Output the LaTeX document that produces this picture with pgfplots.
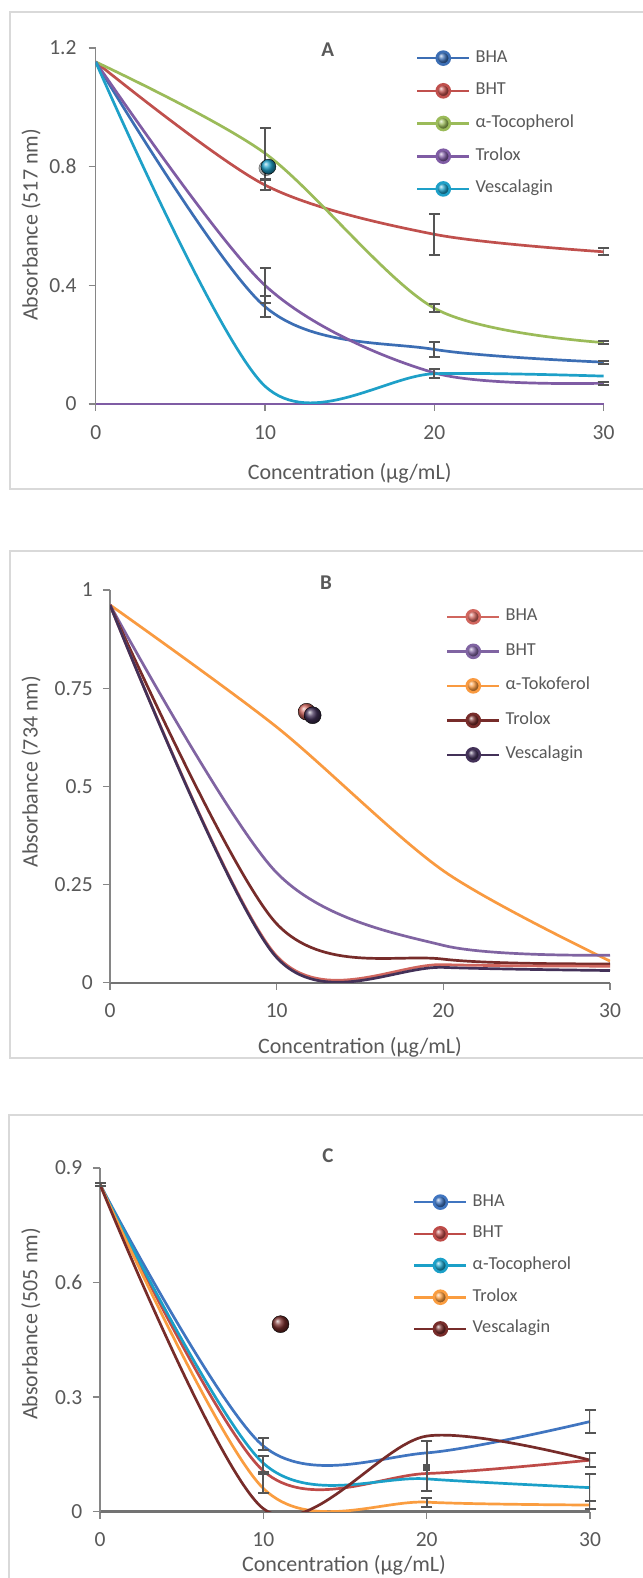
\documentclass[border=0pt]{standalone}
\usepackage{fontspec}
\setmainfont{Carlito}
\usepackage{pgfplots}
\pgfplotsset{compat=1.18}
\usetikzlibrary{plotmarks}
\definecolor{txt}{HTML}{595959}
\definecolor{axisgray}{HTML}{868686}
\definecolor{errgray}{HTML}{555555}
\definecolor{framec}{HTML}{D9D9D9}
\definecolor{aBHA}{HTML}{3C6EB4}
\definecolor{aBHT}{HTML}{C0504D}
\definecolor{aTOC}{HTML}{9BBB59}
\definecolor{aTRO}{HTML}{7F5CA4}
\definecolor{aVES}{HTML}{1EA0C8}
\definecolor{bBHA}{HTML}{D0665E}
\definecolor{bBHT}{HTML}{8064A2}
\definecolor{bTOK}{HTML}{F99A40}
\definecolor{bTRO}{HTML}{772C2A}
\definecolor{bVES}{HTML}{433158}
\definecolor{cBHA}{HTML}{4075C0}
\definecolor{cBHT}{HTML}{BE4B48}
\definecolor{cTOC}{HTML}{1BA0C8}
\definecolor{cTRO}{HTML}{FA9D40}
\definecolor{cVES}{HTML}{772C2A}

\pgfplotsset{
  curve/.style={smooth, tension=0.5, line width=2.7bp, no markers, forget plot},
  ebar/.style={forget plot, errgray, line width=2bp, mark=-, mark size=5.5bp,
    mark options={solid, line width=2bp}, unbounded coords=jump},
  ball/.style={only marks, mark=ball, mark size=#1, forget plot},
  limg/.style={#1, line width=2.6bp, mark=ball, mark size=6.5bp, mark options={ball color=#1}},
  chart/.style={
    scale only axis,
    anchor=south west,
    xmin=0, xmax=30, ymin=0,
    axis lines=left,
    axis line style={-, axisgray, line width=1.3bp},
    xtick={0,10,20,30},
    tick align=outside,
    major tick length=7bp,
    tick style={axisgray, line width=1.3bp},
    tick label style={font=\fontsize{21.5bp}{21.5bp}\selectfont, text=txt, inner sep=0pt},
    /pgf/number format/assume math mode=true,
    yticklabel style={anchor=east},
    xticklabel style={anchor=north, yshift=-14bp},
    label style={font=\fontsize{22bp}{23bp}\selectfont, text=txt},
    title style={font=\fontsize{21bp}{21bp}\selectfont\bfseries, text=txt, anchor=center},
    legend style={draw=none, fill=none, font=\fontsize{18.3bp}{18.3bp}\selectfont, text=txt,
      anchor=north west, inner sep=0pt, outer sep=0pt,
      nodes={inner sep=0pt, text height=12bp, text depth=4bp},
      column sep=5bp},
    legend cell align=left,
    legend image code/.code={\draw[mark repeat=2, mark phase=2, ##1] plot coordinates {(0bp,0bp) (26bp,0bp) (52bp,0bp)};},
  },
}

\begin{document}
\begin{tikzpicture}
\useasboundingbox (0,0) rectangle (643bp,1578bp);
\fill[white] (0,0) rectangle (643bp,1578bp);
\draw[framec, line width=1.5bp] (700bp,1566bp) -- (10bp,1566bp) -- (10bp,1089bp) -- (700bp,1089bp);
\draw[framec, line width=1.5bp] (700bp,1027bp) -- (10bp,1027bp) -- (10bp,520bp) -- (700bp,520bp);
\draw[framec, line width=1.5bp] (700bp,463bp) -- (9bp,463bp) -- (9bp,-20bp);

% ---------------- Panel A ----------------
\begin{axis}[chart,
  at={(95.7bp,1174bp)}, width=507.9bp, height=356bp,
  ymax=1.2, ytick={0,0.4,0.8,1.2},
  yticklabel style={xshift=-12bp},
  x axis line style={aTRO},
  title={A}, title style={at={(axis description cs:0.457,0.978)}},
  xlabel={Concentration (µg/mL)}, xlabel style={at={(axis description cs:0.5,-0.194)}, anchor=center},
  ylabel={Absorbance (517 nm)}, ylabel style={at={(axis description cs:-0.127,0.503)}, anchor=center},
  legend style={at={(axis description cs:0.6306,0.994)}, row sep=16.7bp},
]
\addplot[curve, aBHT] coordinates {(0,1.153) (10,0.738) (20,0.572) (30,0.513)};
\addplot[curve, aTOC] coordinates {(0,1.153) (10,0.845) (20,0.323) (30,0.207)};
\addplot[curve, aBHA] coordinates {(0,1.153) (10,0.328) (20,0.184) (30,0.141)};
\addplot[curve, aTRO] coordinates {(0,1.153) (10,0.40) (20,0.105) (30,0.07)};
\addplot[curve, aVES] coordinates {(0,1.153) (10,0.06) (20,0.102) (30,0.094)};
\addplot[ebar] coordinates {
 (10,0.76) (10,0.93) (10,nan)
 (10,0.72) (10,0.756) (10,nan)
 (10,0.342) (10,0.458) (10,nan)
 (10,0.292) (10,0.364) (10,nan)
 (20,0.502) (20,0.642) (20,nan)
 (20,0.309) (20,0.337) (20,nan)
 (20,0.16) (20,0.208) (20,nan)
 (20,0.086) (20,0.118) (20,nan)
 (30,0.501) (30,0.525) (30,nan)
 (30,0.201) (30,0.213) (30,nan)
 (30,0.136) (30,0.146) (30,nan)
 (30,0.065) (30,0.075)};
\addplot[ball=7.5bp, mark options={ball color=black!60, opacity=0.5}] coordinates {(10.08,0.795)};
\addplot[ball=7.5bp, mark options={ball color=aVES}] coordinates {(10.2,0.80)};
\addlegendimage{limg=aBHA}\addlegendentry{BHA}
\addlegendimage{limg=aBHT}\addlegendentry{BHT}
\addlegendimage{limg=aTOC}\addlegendentry{α-Tocopherol}
\addlegendimage{limg=aTRO}\addlegendentry{Trolox}
\addlegendimage{limg=aVES}\addlegendentry{Vescalagin}
\end{axis}

% ---------------- Panel B ----------------
\begin{axis}[chart,
  at={(110bp,595.3bp)}, width=500bp, height=392.7bp,
  ymax=1, ytick={0,0.25,0.5,0.75,1},
  yticklabel style={xshift=-10bp},
  x axis line style={line width=2bp, black!55},
  title={B}, title style={at={(axis description cs:0.432,1.004)}},
  xlabel={Concentration (µg/mL)}, xlabel style={at={(axis description cs:0.5,-0.165)}, anchor=center},
  ylabel={Absorbance (734 nm)}, ylabel style={at={(axis description cs:-0.158,0.537)}, anchor=center},
  legend style={at={(axis description cs:0.672,0.952)}, row sep=18.5bp},
]
\addplot[curve, bTOK] coordinates {(0,0.962) (10,0.651) (20,0.285) (30,0.055)};
\addplot[curve, bBHT] coordinates {(0,0.962) (10,0.28) (20,0.095) (30,0.07)};
\addplot[curve, bTRO] coordinates {(0,0.962) (10,0.15) (20,0.06) (30,0.048)};
\addplot[curve, bBHA] coordinates {(0,0.962) (10,0.068) (20,0.046) (30,0.042)};
\addplot[curve, bVES] coordinates {(0,0.962) (10,0.064) (20,0.039) (30,0.031)};
\addplot[ball=8.5bp, mark options={ball color=bBHA}] coordinates {(11.8,0.69)};
\addplot[ball=8.5bp, mark options={ball color=bVES}] coordinates {(12.16,0.681)};
\addlegendimage{limg=bBHA}\addlegendentry{BHA}
\addlegendimage{limg=bBHT}\addlegendentry{BHT}
\addlegendimage{limg=bTOK}\addlegendentry{α-Tokoferol}
\addlegendimage{limg=bTRO}\addlegendentry{Trolox}
\addlegendimage{limg=bVES}\addlegendentry{Vescalagin}
\end{axis}

% ---------------- Panel C ----------------
\begin{axis}[chart,
  at={(100bp,66.3bp)}, width=490bp, height=343.7bp,
  ymax=0.9, ytick={0,0.3,0.6,0.9},
  yticklabel style={xshift=-10.5bp},
  x axis line style={line width=2.5bp, black!55},
  title={C}, title style={at={(axis description cs:0.465,1.018)}},
  xlabel={Concentration (µg/mL)}, xlabel style={at={(axis description cs:0.498,-0.155)}, anchor=center},
  ylabel={Absorbance (505 nm)}, ylabel style={at={(axis description cs:-0.141,0.546)}, anchor=center},
  legend style={at={(axis description cs:0.639,0.924)}, row sep=15.7bp},
]
\addplot[curve, cBHA] coordinates {(0,0.857) (10,0.172) (20,0.154) (30,0.236)};
\addplot[curve, cBHT] coordinates {(0,0.857) (10,0.107) (20,0.10) (30,0.135)};
\addplot[curve, cTOC] coordinates {(0,0.857) (10,0.127) (20,0.086) (30,0.063)};
\addplot[curve, cTRO] coordinates {(0,0.857) (10,0.061) (20,0.025) (30,0.0175)};
\addplot[curve, cVES] coordinates {(0,0.857) (10,0.008) (20,0.198) (30,0.135)};
\addplot[ebar] coordinates {
 (0,0.854) (0,0.86) (0,nan)
 (10,0.162) (10,0.192) (10,nan)
 (10,0.105) (10,0.145) (10,nan)
 (10,0.05) (10,0.10) (10,nan)
 (20,0.055) (20,0.185) (20,nan)
 (20,0.013) (20,0.035) (20,nan)
 (30,0.207) (30,0.265) (30,nan)
 (30,0.117) (30,0.153) (30,nan)
 (30,0.028) (30,0.098) (30,nan)
 (30,0.0075) (30,0.0275)};
\addplot[only marks, mark=square*, mark size=3bp, errgray, forget plot] coordinates {(20,0.116)};
\addplot[ball=8.5bp, mark options={ball color=cVES}] coordinates {(11.05,0.491)};
\addlegendimage{limg=cBHA}\addlegendentry{BHA}
\addlegendimage{limg=cBHT}\addlegendentry{BHT}
\addlegendimage{limg=cTOC}\addlegendentry{α-Tocopherol}
\addlegendimage{limg=cTRO}\addlegendentry{Trolox}
\addlegendimage{limg=cVES}\addlegendentry{Vescalagin}
\end{axis}
\end{tikzpicture}
\end{document}
